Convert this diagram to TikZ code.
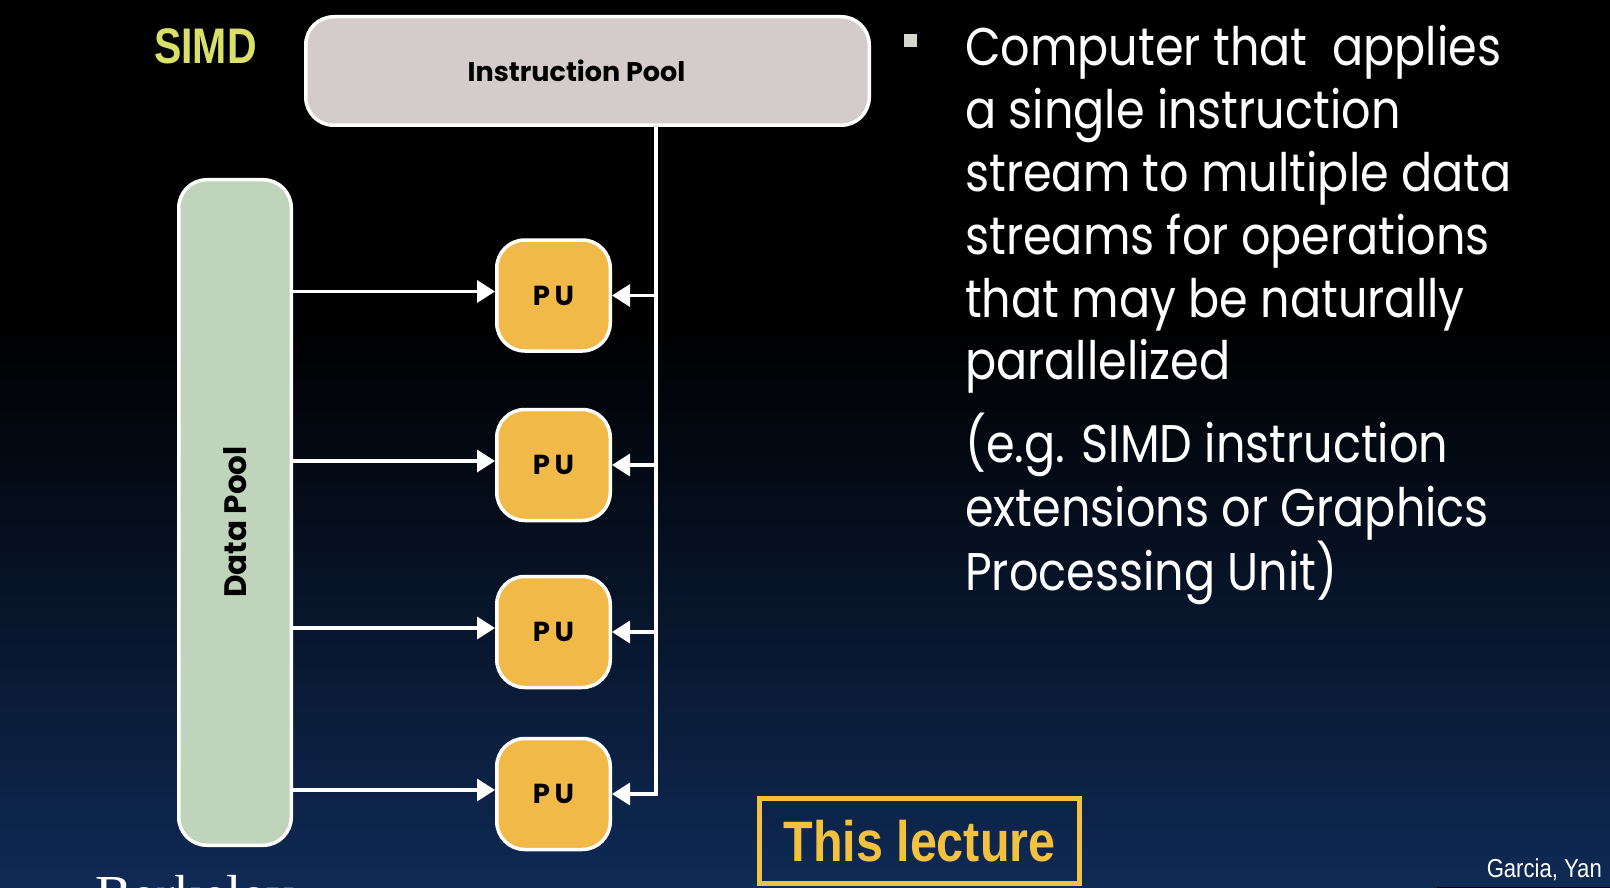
\documentclass[tikz,border=0pt]{standalone}
\usepackage{fontspec}
\setmainfont{Poppins}
\newfontfamily\bodyfont[FakeStretch=0.87]{Poppins}
\newfontfamily\condfont[FakeStretch=0.82]{Liberation Sans}
\newfontfamily\condbold[FakeStretch=0.85]{Liberation Sans}
\newfontfamily\serifB{Liberation Serif}
\usetikzlibrary{arrows.meta,calc}
\definecolor{ipfill}{HTML}{D4CBCB}
\definecolor{dpfill}{HTML}{BFD4BB}
\definecolor{pufill}{HTML}{F0B948}
\definecolor{simdc}{HTML}{D8E06A}
\definecolor{lectc}{HTML}{F2C140}
\definecolor{navy}{HTML}{0F2A55}
\definecolor{bulletc}{HTML}{D9D5CB}
\begin{document}
\begin{tikzpicture}[x=1pt,y=-1pt,
  box/.style={draw=white, line width=3.5pt, rounded corners=28pt, inner sep=0pt},
  pubox/.style={box, fill=pufill, minimum width=113.5pt, minimum height=111pt,
     font=\bfseries\fontsize{27.5}{30}\selectfont},
  arr/.style={draw=white, line width=3.5pt, -{Triangle[length=18pt,width=22pt]}},
  bodyline/.style={anchor=base west, text=white, inner sep=0pt, font=\bodyfont\fontsize{53}{60}\selectfont},
]
\useasboundingbox (0,0) rectangle (1610,888);
\begin{scope}
\clip (0,0) rectangle (1610,888);
% background
\fill[black] (0,0) rectangle (1610,331);
\shade[top color=black, bottom color=navy] (0,330) rectangle (1610,888);

% title
\node[anchor=base west, inner sep=0pt, text=simdc, font=\condfont\bfseries\fontsize{50}{50}\selectfont] (simd) at (154,63.5) {SIMD};

% pools
\node[box, fill=ipfill, minimum width=563.5pt, minimum height=108.5pt,
      label={[xshift=-11pt, font=\bfseries\fontsize{27}{30}\selectfont]center:Instruction Pool}] (ip) at (587.5,71) {};
\node[box, fill=dpfill, minimum width=112.5pt, minimum height=665.5pt] (dp) at (235,512.5) {};
\node[rotate=90, inner sep=0pt, font=\bfseries\fontsize{31}{32}\selectfont] (dptext) at (235,522) {Data Pool};

% processing units
\node[pubox] (pu1) at (553.5,295.5) {P\,U};
\node[pubox] (pu2) at (553.5,465) {P\,U};
\node[pubox] (pu3) at (553.5,632) {P\,U};
\node[pubox] (pu4) at (553.5,794) {P\,U};

% instruction bus
\coordinate (bus) at (656,794);
\draw[arr] (ip.south -| bus) |- (pu4.east);
\foreach \i in {1,2,3}{
  \draw[arr] (bus |- pu\i.east) -- (pu\i.east);
}
% data arrows
\foreach \i in {1,2,3,4}{
  \draw[arr] ([yshift=4pt]dp.east |- pu\i.west) -- ([yshift=4pt]pu\i.west);
}

% bullet text
\fill[bulletc] (904,34) rectangle (917,47);
\node[bodyline] (l1) at (965,66) {Computer that\ \ applies};
\node[bodyline] (l2) at (965,129) {a single instruction};
\node[bodyline] (l3) at (965,192) {stream to multiple data};
\node[bodyline] (l4) at (965,254) {streams for operations};
\node[bodyline] (l5) at (965,317) {that may be naturally};
\node[bodyline] (l6) at (965,379) {parallelized};
\node[bodyline] (l7) at (965,462) {(e.g. SIMD instruction};
\node[bodyline] (l8) at (965,526) {extensions or Graphics};
\node[bodyline] (l9) at (965,590) {Processing Unit)};

% this lecture
\node[draw=lectc, line width=5pt, minimum width=320pt, minimum height=85pt, inner sep=0pt,
      text=lectc, font=\condbold\bfseries\fontsize{57}{57}\selectfont] (lect) at (919.5,841) {This lecture};

% footer
\node[anchor=base east, inner sep=0pt, text=white, font=\condbold\fontsize{26}{26}\selectfont] (auth) at (1602,877) {Garcia, Yan};
\draw[black, line width=2pt] (1437,887.5) -- (1610,887.5);
\node[anchor=base west, inner sep=0pt, text=white, font=\serifB\fontsize{55}{55}\selectfont] (berk) at (95,913) {Berkeley};
\end{scope}
\end{tikzpicture}
\end{document}
